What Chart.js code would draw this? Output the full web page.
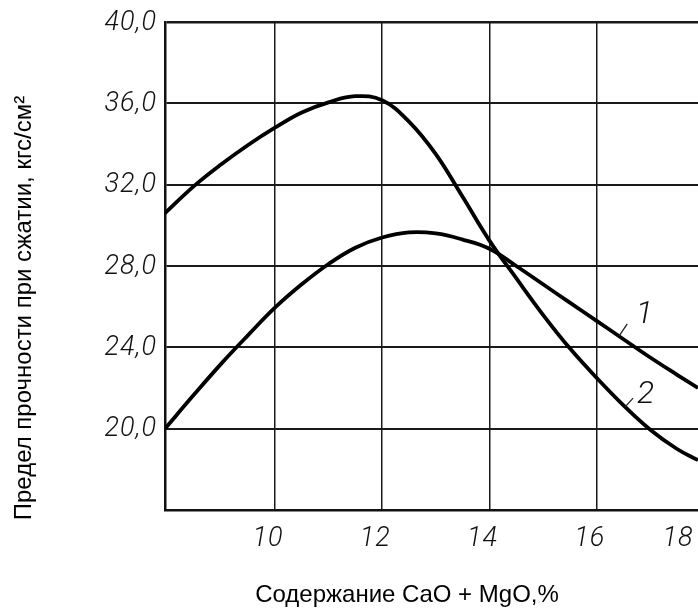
<!DOCTYPE html>
<html>
<head>
<meta charset="utf-8">
<script src="https://cdn.jsdelivr.net/npm/chart.js@4"></script>
<style>
  body { margin: 0; background: #fff; }
  #wrap { position: relative; width: 698px; height: 609px; }
</style>
</head>
<body>
<div id="wrap"><canvas id="strengthChart"></canvas></div>
<script>
// Values
const curve1X = [7.95, 8.5, 9.0, 9.5, 10.0, 10.5, 11.0, 11.5, 12.0, 12.5, 13.0, 13.5, 14.0, 14.5, 15.0, 15.5, 16.0, 16.5, 17.0, 17.5, 17.89];
const curve1Y = [20.0, 21.7, 23.2, 24.6, 25.95, 27.1, 28.1, 28.9, 29.4, 29.65, 29.6, 29.3, 28.85, 28.0, 27.1, 26.2, 25.3, 24.4, 23.5, 22.65, 22.0];

const curve2X = [7.95, 8.5, 9.0, 9.5, 10.0, 10.5, 11.0, 11.5, 12.0, 12.5, 13.0, 13.5, 14.0, 14.5, 15.0, 15.5, 16.0, 16.5, 17.0, 17.5, 17.89];
const curve2Y = [30.6, 31.95, 33.0, 33.95, 34.8, 35.55, 36.05, 36.35, 36.15, 35.1, 33.5, 31.4, 29.25, 27.4, 25.6, 23.95, 22.5, 21.15, 19.95, 19.0, 18.45];

const xTickValues = [10, 12, 14, 16, 18];
const yTickValues = [20, 24, 28, 32, 36, 40];
const curveNames = ['1', '2'];

const xTitle = 'Содержание CaO + MgO,%';
const yTitle = 'Предел прочности при сжатии, кгс/см²';

const tickFont = 'italic 300 27px Roboto, "DejaVu Sans Condensed", sans-serif';
const titleFont = '24px "Liberation Sans", Arial, sans-serif';

function toPoints(xs, ys) {
    return xs.map((x, i) => ({ x: x, y: ys[i] }));
}

// draws tick labels, axis titles and the "1" / "2" callouts
const labelsPlugin = {
    id: 'labels',
    afterDraw(chart) {
        const ctx = chart.ctx;
        const area = chart.chartArea;
        const xs = chart.scales.x;
        const ys = chart.scales.y;

        ctx.save();
        ctx.fillStyle = '#111';
        ctx.font = tickFont;
        ctx.letterSpacing = '1px';

        // y ticks, decimal comma
        ctx.textAlign = 'right';
        ctx.textBaseline = 'middle';
        yTickValues.forEach(v => {
            ctx.fillText(v.toFixed(1).replace('.', ','), area.left - 8, ys.getPixelForValue(v) + 1);
        });

        // x ticks (last one is pushed inside the picture)
        ctx.textAlign = 'center';
        xTickValues.forEach(v => {
            const px = Math.min(xs.getPixelForValue(v) - 7, area.right - 20);
            ctx.fillText(String(v), px, area.bottom + 29);
        });

        // curve callouts with short leader strokes
        ctx.font = 'italic 300 32px Roboto, "DejaVu Sans Condensed", sans-serif';
        ctx.strokeStyle = '#222';
        ctx.lineWidth = 1.3;
        const callouts = [
            { name: curveNames[0], at: [16.9, 25.6], from: [16.42, 24.56], to: [16.57, 25.15] },
            { name: curveNames[1], at: [16.92, 21.65], from: [16.53, 21.07], to: [16.68, 21.5] }
        ];
        callouts.forEach(c => {
            ctx.fillText(c.name, xs.getPixelForValue(c.at[0]), ys.getPixelForValue(c.at[1]));
            ctx.beginPath();
            ctx.moveTo(xs.getPixelForValue(c.from[0]), ys.getPixelForValue(c.from[1]));
            ctx.lineTo(xs.getPixelForValue(c.to[0]), ys.getPixelForValue(c.to[1]));
            ctx.stroke();
        });

        // axis titles
        ctx.letterSpacing = '0px';
        ctx.fillStyle = '#000';
        ctx.font = titleFont;
        ctx.textAlign = 'center';
        ctx.textBaseline = 'alphabetic';
        ctx.fillText(xTitle, 407, 602);

        ctx.translate(31, 308);
        ctx.rotate(-Math.PI / 2);
        ctx.fillText(yTitle, 0, 0);
        ctx.restore();
    }
};

new Chart(document.getElementById('strengthChart'), {
    type: 'line',
    data: {
        datasets: [
            {
                label: curveNames[0],
                data: toPoints(curve1X, curve1Y),
                borderColor: '#000',
                borderWidth: 3.8,
                pointRadius: 0,
                tension: 0.4,
                fill: false
            },
            {
                label: curveNames[1],
                data: toPoints(curve2X, curve2Y),
                borderColor: '#000',
                borderWidth: 3.8,
                pointRadius: 0,
                tension: 0.4,
                fill: false
            }
        ]
    },
    options: {
        responsive: true,
        maintainAspectRatio: false,
        animation: false,
        layout: { padding: { left: 165, right: 0, top: 22, bottom: 99 } },
        plugins: {
            legend: { display: false },
            tooltip: { enabled: false }
        },
        scales: {
            x: {
                type: 'linear',
                min: 7.95,
                max: 17.89,
                afterBuildTicks: scale => {
                    scale.ticks = xTickValues.filter(v => v <= scale.max).map(v => ({ value: v }));
                },
                ticks: { display: false },
                grid: { color: '#1a1a1a', lineWidth: 1.5, drawTicks: false },
                border: { color: '#111', width: 2.5 }
            },
            y: {
                type: 'linear',
                min: 16,
                max: 40,
                afterBuildTicks: scale => {
                    scale.ticks = yTickValues.map(v => ({ value: v }));
                },
                ticks: { display: false },
                grid: {
                    color: '#1a1a1a',
                    lineWidth: c => (c.tick && c.tick.value === 40 ? 2.5 : 2),
                    drawTicks: false
                },
                border: { color: '#111', width: 2.5 }
            }
        }
    },
    plugins: [labelsPlugin]
});
</script>
</body>
</html>
